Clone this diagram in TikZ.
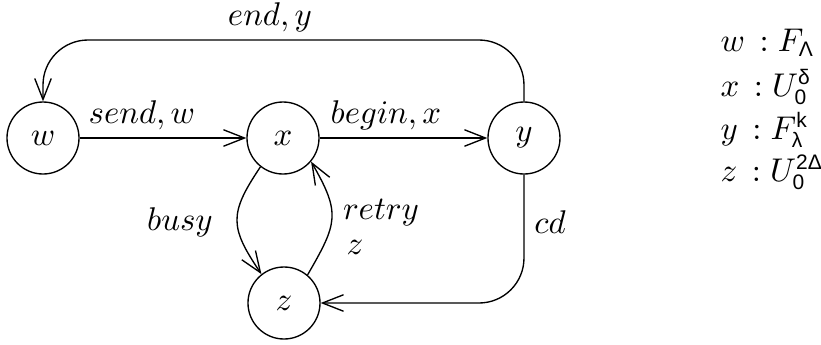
\documentclass[tikz,border=0pt]{standalone}
\usepackage{fontspec}
\usetikzlibrary{arrows.meta}
\newfontfamily\lsans{Liberation Sans}
% small sans-serif indices for the type legend
\newcommand\subsf[1]{\mbox{\fontsize{7}{8}\selectfont\lsans #1}}
% "name : type" with the slightly wider colon spacing of the legend
\newcommand\hastype[2]{#1\mathrel{\,:}#2}
\tikzset{
  state/.style={circle, draw, line width=0.45pt, minimum size=24pt, inner sep=0pt},
  trans/.style={line width=0.45pt, -{Straight Barb[length=7pt,width=5.5pt,line width=0.45pt]}},
  lbl/.style={inner sep=0pt},
  legend/.style={anchor=west, inner sep=0pt, font=\fontsize{11}{13}\selectfont}
}
\begin{document}
\begin{tikzpicture}[x=0.3333pt, y=-0.3333pt,
    every node/.append style={font=\fontsize{10.8}{13}\selectfont}]
  \useasboundingbox (0,0) rectangle (821,345);

  % states
  \node[state] (w) at (43,138) {$w$};
  \node[state] (x) at (283,138) {$x$};
  \node[state] (y) at (524,138) {$y$};
  \node[state] (z) at (284,303) {$z$};

  % corner points of the two routed connectors
  \coordinate (tr) at (524,40);
  \coordinate (tl) at (43,40);
  \coordinate (br) at (524,303);

  % transitions
  \draw[trans] (w) -- (x);
  \draw[trans] (x) -- (y);
  \draw[trans, rounded corners=15pt] (y.north) -- (tr) -- (tl) -- (w.north);
  \draw[trans, rounded corners=15pt] (y.south) -- (br) -- (z.east);
  \draw[trans] (x.232) to[out=236, in=124, looseness=1.35] (z.128);
  \draw[trans] (z.50) to[out=60, in=-60, looseness=1.35] (x.-40);

  % transition labels
  \node[lbl] (lsend)  at (142,115) {$send, w$};
  \node[lbl] (lbegin) at (386,115) {$begin, x$};
  \node[lbl] (lend)   at (270,17)  {$end, y$};
  \node[lbl] (lbusy)  at (180,222) {$busy$};
  \node[lbl] (lretry) at (381,213) {$retry$};
  \node[lbl] (lz)     at (355,247) {$z$};
  \node[lbl] (lcd)    at (550,222) {$cd$};

  % type legend
  \node[legend] (tw) at (720,43)  {$\hastype{w}{F_{\subsf{Λ}}}$};
  \node[legend] (tx) at (720,87)  {$\hastype{x}{U_{\subsf{0}}^{\subsf{δ}}}$};
  \node[legend] (ty) at (720,130) {$\hastype{y}{F_{\subsf{λ}}^{\subsf{k}}}$};
  \node[legend] (tz) at (720,172) {$\hastype{z}{U_{\subsf{0}}^{\subsf{2Δ}}}$};
\end{tikzpicture}
\end{document}
